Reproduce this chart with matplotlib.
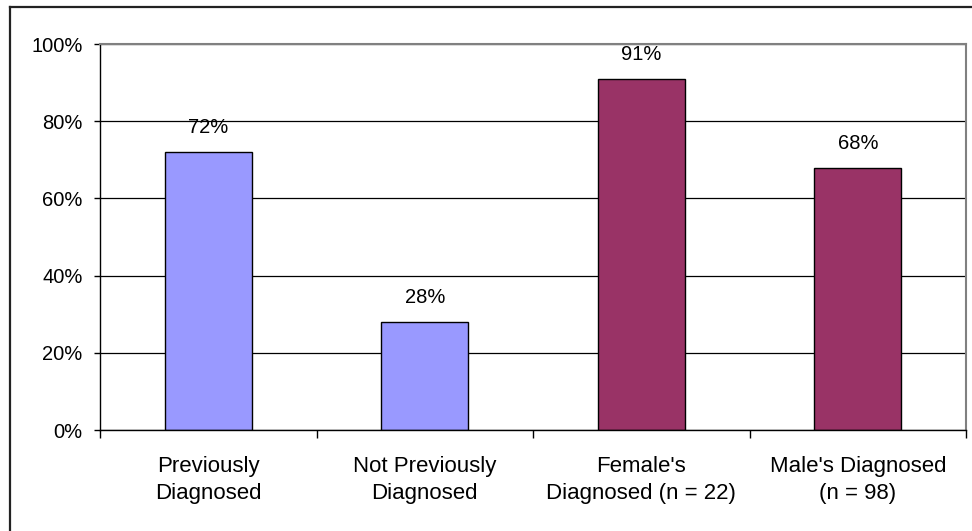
import matplotlib
matplotlib.use("Agg")
import matplotlib.pyplot as plt
from matplotlib.lines import Line2D
from matplotlib.ticker import FixedLocator, PercentFormatter

plt.rcParams['font.family'] = ['Liberation Sans', 'DejaVu Sans']

categories = ["Previously\nDiagnosed", "Not Previously\nDiagnosed",
              "Female's\nDiagnosed (n = 22)", "Male's Diagnosed\n(n = 98)"]
values = [72, 28, 91, 68]
colors = ["#9999FF", "#9999FF", "#993366", "#993366"]
yticks = [0, 20, 40, 60, 80, 100]

fig = plt.figure(figsize=(9.72, 5.31), dpi=100)
ax = fig.add_axes([100 / 972, 101 / 531, 866 / 972, 386 / 531])

x = list(range(len(categories)))
bars = ax.bar(x, values, width=0.4, color=colors, edgecolor="black",
              linewidth=1.0, zorder=3)

for xi, v in zip(x, values):
    ax.annotate(f"{v}%", (xi, v), xytext=(0, 13.5), textcoords="offset points",
                ha="center", va="baseline", fontsize=14.5, color="black", zorder=4)

ax.set_xlim(-0.5, len(categories) - 0.5)
ax.set_ylim(0, 100)
ax.set_yticks(yticks)
ax.yaxis.set_major_formatter(PercentFormatter(decimals=0))
ax.grid(axis="y", color="black", linewidth=0.9, zorder=1)

ax.set_xticks(x)
ax.set_xticklabels(categories, fontsize=16, linespacing=1.33)
ax.tick_params(axis="x", which="major", length=0, pad=19)
ax.xaxis.set_minor_locator(FixedLocator([i - 0.5 for i in range(len(categories) + 1)]))
ax.tick_params(axis="x", which="minor", length=6, width=1, direction="out", color="black")
ax.tick_params(axis="y", labelsize=14.5, length=4, width=1, pad=8.5, color="black")

for side in ("left", "bottom"):
    ax.spines[side].set_color("black")
    ax.spines[side].set_linewidth(1.0)
for side in ("top", "right"):
    ax.spines[side].set_color("#808080")
    ax.spines[side].set_linewidth(1.5)
ax.spines["bottom"].set_zorder(5)

# outer chart frame (left and top edges)
fx = 9.5 / 972
fy = 1 - 6.5 / 531
fig.add_artist(Line2D([fx, fx], [0, fy], transform=fig.transFigure,
                      color="#222222", linewidth=1.6))
fig.add_artist(Line2D([fx, 1], [fy, fy], transform=fig.transFigure,
                      color="#222222", linewidth=1.6))

fig.savefig("out.png", dpi=100)
